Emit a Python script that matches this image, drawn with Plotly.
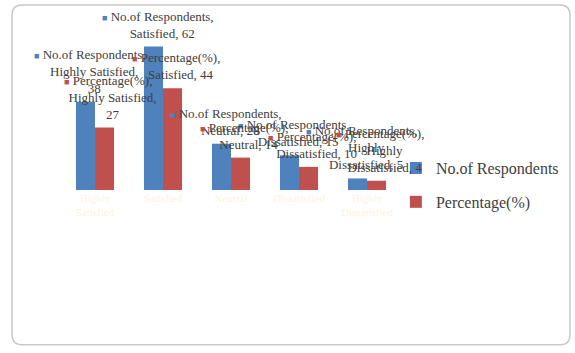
import plotly.graph_objects as go

categories = ["Highly Satisfied", "Satisfied", "Neutral", "Dissatisfied", "Highly Dissatisfied"]
tick_labels = ["Highly<br>Satisfied", "Satisfied", "Neutral", "Dissatisfied", "Highly<br>Dissatisfied"]
label_cats = ["Highly Satisfied,<br>", "Satisfied, ", "Neutral, ", "Dissatisfied, ", "Highly<br>Dissatisfied, "]
respondents = [38, 62, 20, 15, 5]
percentage = [27, 44, 14, 10, 4]
series_names = ["No.of Respondents", "Percentage(%)"]
colors = ["#4f81bd", "#c0504d"]

FONT = "Liberation Serif"

fig = go.Figure()
for name, vals, col in zip(series_names, [respondents, percentage], colors):
    fig.add_trace(go.Bar(
        x=categories, y=vals, name=name, marker_color=col,
        marker_line_width=0, legendgroup=name, cliponaxis=False,
    ))

annotations = []
for si, (name, vals, col) in enumerate(zip(series_names, [respondents, percentage], colors)):
    shift = -9.5 + 8 if si == 0 else 9.5 + 8
    for cat, lc, v in zip(categories, label_cats, vals):
        key = f"<span style='color:{col};font-size:9px'>■</span>"
        pad = "<span style='color:rgba(0,0,0,0);font-size:9px'>■</span>"
        text = f"{key} {name}, {pad}<br>{lc}{v}"
        annotations.append(dict(
            x=cat, y=v, xref="x", yref="y", text=text, showarrow=False,
            xanchor="center", yanchor="bottom", xshift=shift, yshift=4,
            font=dict(family=FONT, size=13, color="#404040"),
        ))

# rounded frame around the chart (paper coordinates)
x0, x1, y0, y1 = -0.144, 1.497, -0.955, 1.142
rx, ry = 10 / 340, 10 / 162
path = (f"M {x0+rx},{y1} L {x1-rx},{y1} Q {x1},{y1} {x1},{y1-ry} "
        f"L {x1},{y0+ry} Q {x1},{y0} {x1-rx},{y0} L {x0+rx},{y0} "
        f"Q {x0},{y0} {x0},{y0+ry} L {x0},{y1-ry} Q {x0},{y1} {x0+rx},{y1} Z")

fig.update_layout(
    width=575, height=353,
    margin=dict(l=61, r=174, t=28, b=163, autoexpand=False),
    paper_bgcolor="white", plot_bgcolor="white",
    barmode="group", bargap=0.44, bargroupgap=0,
    font=dict(family=FONT, color="#404040"),
    xaxis=dict(showgrid=False, showline=False, zeroline=False, ticks="",
               tickvals=categories, ticktext=tick_labels, tickangle=0,
               automargin=False, range=[-0.5, 4.5],
               tickfont=dict(family=FONT, size=11, color="#fcf3e2")),
    yaxis=dict(range=[0, 70], visible=False),
    showlegend=True,
    legend=dict(x=0.985, y=0.24, xanchor="left", yanchor="top",
                font=dict(family=FONT, size=16, color="#404040"),
                tracegroupgap=10, bgcolor="rgba(0,0,0,0)"),
    annotations=annotations,
    shapes=[dict(type="path", path=path, xref="paper", yref="paper",
                 line=dict(color="#c8c8c8", width=1.5), layer="below")],
)

fig.write_html("out.html")
